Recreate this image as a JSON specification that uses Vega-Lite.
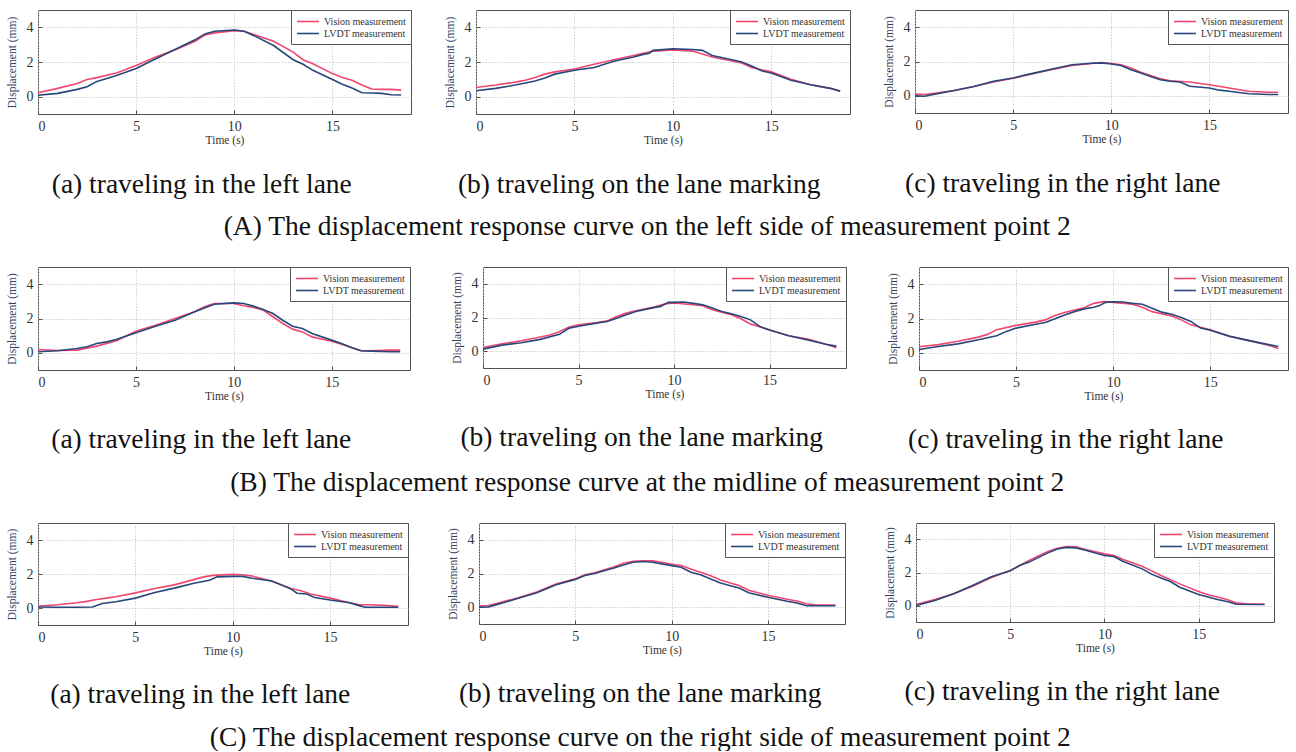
{
  "$schema": "https://vega.github.io/schema/vega-lite/v6.json",
  "background": "white",
  "padding": {"left": 5, "top": 9, "right": 0, "bottom": 0},
  "spacing": 26,
  "data": {
    "values": [
      {"panel":"Aa","series":"Vision","time":0,"disp":0.23},{"panel":"Aa","series":"Vision","time":1,"disp":0.48},{"panel":"Aa","series":"Vision","time":2,"disp":0.76},{"panel":"Aa","series":"Vision","time":2.5,"disp":0.99},{"panel":"Aa","series":"Vision","time":3,"disp":1.1},{"panel":"Aa","series":"Vision","time":4,"disp":1.37},{"panel":"Aa","series":"Vision","time":5,"disp":1.8},{"panel":"Aa","series":"Vision","time":6,"disp":2.29},{"panel":"Aa","series":"Vision","time":7,"disp":2.7},{"panel":"Aa","series":"Vision","time":8,"disp":3.2},{"panel":"Aa","series":"Vision","time":8.5,"disp":3.56},{"panel":"Aa","series":"Vision","time":9,"disp":3.68},{"panel":"Aa","series":"Vision","time":10,"disp":3.81},{"panel":"Aa","series":"Vision","time":10.5,"disp":3.77},{"panel":"Aa","series":"Vision","time":11,"disp":3.58},{"panel":"Aa","series":"Vision","time":12,"disp":3.2},{"panel":"Aa","series":"Vision","time":13,"disp":2.57},{"panel":"Aa","series":"Vision","time":13.5,"disp":2.13},{"panel":"Aa","series":"Vision","time":14,"disp":1.9},{"panel":"Aa","series":"Vision","time":15,"disp":1.33},{"panel":"Aa","series":"Vision","time":15.5,"disp":1.1},{"panel":"Aa","series":"Vision","time":16,"disp":0.95},{"panel":"Aa","series":"Vision","time":16.5,"disp":0.67},{"panel":"Aa","series":"Vision","time":17,"disp":0.44},{"panel":"Aa","series":"Vision","time":17.5,"disp":0.42},{"panel":"Aa","series":"Vision","time":18,"disp":0.42},{"panel":"Aa","series":"Vision","time":18.5,"disp":0.38},
      {"panel":"Aa","series":"LVDT","time":0,"disp":0.08},{"panel":"Aa","series":"LVDT","time":1,"disp":0.19},{"panel":"Aa","series":"LVDT","time":2,"disp":0.42},{"panel":"Aa","series":"LVDT","time":2.5,"disp":0.57},{"panel":"Aa","series":"LVDT","time":3,"disp":0.88},{"panel":"Aa","series":"LVDT","time":4,"disp":1.22},{"panel":"Aa","series":"LVDT","time":5,"disp":1.62},{"panel":"Aa","series":"LVDT","time":6,"disp":2.19},{"panel":"Aa","series":"LVDT","time":7,"disp":2.74},{"panel":"Aa","series":"LVDT","time":8,"disp":3.28},{"panel":"Aa","series":"LVDT","time":8.5,"disp":3.62},{"panel":"Aa","series":"LVDT","time":9,"disp":3.77},{"panel":"Aa","series":"LVDT","time":10,"disp":3.85},{"panel":"Aa","series":"LVDT","time":10.5,"disp":3.77},{"panel":"Aa","series":"LVDT","time":11,"disp":3.52},{"panel":"Aa","series":"LVDT","time":12,"disp":2.95},{"panel":"Aa","series":"LVDT","time":13,"disp":2.13},{"panel":"Aa","series":"LVDT","time":13.5,"disp":1.87},{"panel":"Aa","series":"LVDT","time":14,"disp":1.52},{"panel":"Aa","series":"LVDT","time":15,"disp":0.99},{"panel":"Aa","series":"LVDT","time":15.5,"disp":0.72},{"panel":"Aa","series":"LVDT","time":16,"disp":0.5},{"panel":"Aa","series":"LVDT","time":16.5,"disp":0.23},{"panel":"Aa","series":"LVDT","time":17,"disp":0.21},{"panel":"Aa","series":"LVDT","time":17.5,"disp":0.19},{"panel":"Aa","series":"LVDT","time":18,"disp":0.11},{"panel":"Aa","series":"LVDT","time":18.5,"disp":0.1},

      {"panel":"Ab","series":"Vision","time":0,"disp":0.53},{"panel":"Ab","series":"Vision","time":1,"disp":0.67},{"panel":"Ab","series":"Vision","time":2,"disp":0.84},{"panel":"Ab","series":"Vision","time":2.5,"disp":0.95},{"panel":"Ab","series":"Vision","time":3,"disp":1.1},{"panel":"Ab","series":"Vision","time":3.5,"disp":1.3},{"panel":"Ab","series":"Vision","time":4,"disp":1.43},{"panel":"Ab","series":"Vision","time":5,"disp":1.6},{"panel":"Ab","series":"Vision","time":6,"disp":1.87},{"panel":"Ab","series":"Vision","time":7,"disp":2.13},{"panel":"Ab","series":"Vision","time":8,"disp":2.38},{"panel":"Ab","series":"Vision","time":9,"disp":2.63},{"panel":"Ab","series":"Vision","time":10,"disp":2.7},{"panel":"Ab","series":"Vision","time":11,"disp":2.63},{"panel":"Ab","series":"Vision","time":12,"disp":2.29},{"panel":"Ab","series":"Vision","time":13,"disp":2.06},{"panel":"Ab","series":"Vision","time":13.5,"disp":1.94},{"panel":"Ab","series":"Vision","time":14,"disp":1.68},{"panel":"Ab","series":"Vision","time":15,"disp":1.43},{"panel":"Ab","series":"Vision","time":16,"disp":1.01},{"panel":"Ab","series":"Vision","time":17,"disp":0.69},{"panel":"Ab","series":"Vision","time":18,"disp":0.48},{"panel":"Ab","series":"Vision","time":18.5,"disp":0.32},
      {"panel":"Ab","series":"LVDT","time":0,"disp":0.34},{"panel":"Ab","series":"LVDT","time":1,"disp":0.48},{"panel":"Ab","series":"LVDT","time":2,"disp":0.67},{"panel":"Ab","series":"LVDT","time":3,"disp":0.9},{"panel":"Ab","series":"LVDT","time":3.5,"disp":1.08},{"panel":"Ab","series":"LVDT","time":4,"disp":1.3},{"panel":"Ab","series":"LVDT","time":5,"disp":1.52},{"panel":"Ab","series":"LVDT","time":6,"disp":1.68},{"panel":"Ab","series":"LVDT","time":7,"disp":2.04},{"panel":"Ab","series":"LVDT","time":8,"disp":2.29},{"panel":"Ab","series":"LVDT","time":8.5,"disp":2.44},{"panel":"Ab","series":"LVDT","time":8.8,"disp":2.51},{"panel":"Ab","series":"LVDT","time":9,"disp":2.67},{"panel":"Ab","series":"LVDT","time":10,"disp":2.76},{"panel":"Ab","series":"LVDT","time":11,"disp":2.72},{"panel":"Ab","series":"LVDT","time":11.5,"disp":2.67},{"panel":"Ab","series":"LVDT","time":12,"disp":2.38},{"panel":"Ab","series":"LVDT","time":13,"disp":2.13},{"panel":"Ab","series":"LVDT","time":13.5,"disp":2.0},{"panel":"Ab","series":"LVDT","time":14,"disp":1.77},{"panel":"Ab","series":"LVDT","time":14.5,"disp":1.49},{"panel":"Ab","series":"LVDT","time":15,"disp":1.37},{"panel":"Ab","series":"LVDT","time":16,"disp":0.95},{"panel":"Ab","series":"LVDT","time":17,"disp":0.69},{"panel":"Ab","series":"LVDT","time":18,"disp":0.48},{"panel":"Ab","series":"LVDT","time":18.5,"disp":0.32},

      {"panel":"Ac","series":"Vision","time":0,"disp":0.1},{"panel":"Ac","series":"Vision","time":0.5,"disp":0.08},{"panel":"Ac","series":"Vision","time":1,"disp":0.15},{"panel":"Ac","series":"Vision","time":2,"disp":0.31},{"panel":"Ac","series":"Vision","time":3,"disp":0.54},{"panel":"Ac","series":"Vision","time":4,"disp":0.81},{"panel":"Ac","series":"Vision","time":5,"disp":1.02},{"panel":"Ac","series":"Vision","time":6,"disp":1.29},{"panel":"Ac","series":"Vision","time":7,"disp":1.54},{"panel":"Ac","series":"Vision","time":8,"disp":1.77},{"panel":"Ac","series":"Vision","time":9,"disp":1.88},{"panel":"Ac","series":"Vision","time":9.5,"disp":1.94},{"panel":"Ac","series":"Vision","time":10,"disp":1.88},{"panel":"Ac","series":"Vision","time":10.5,"disp":1.81},{"panel":"Ac","series":"Vision","time":11,"disp":1.62},{"panel":"Ac","series":"Vision","time":11.5,"disp":1.38},{"panel":"Ac","series":"Vision","time":12,"disp":1.19},{"panel":"Ac","series":"Vision","time":12.5,"disp":1.0},{"panel":"Ac","series":"Vision","time":13,"disp":0.88},{"panel":"Ac","series":"Vision","time":14,"disp":0.81},{"panel":"Ac","series":"Vision","time":15,"disp":0.65},{"panel":"Ac","series":"Vision","time":16,"disp":0.46},{"panel":"Ac","series":"Vision","time":17,"disp":0.27},{"panel":"Ac","series":"Vision","time":18,"disp":0.21},{"panel":"Ac","series":"Vision","time":18.5,"disp":0.21},
      {"panel":"Ac","series":"LVDT","time":0,"disp":0.0},{"panel":"Ac","series":"LVDT","time":0.5,"disp":-0.02},{"panel":"Ac","series":"LVDT","time":1,"disp":0.1},{"panel":"Ac","series":"LVDT","time":2,"disp":0.31},{"panel":"Ac","series":"LVDT","time":3,"disp":0.54},{"panel":"Ac","series":"LVDT","time":4,"disp":0.85},{"panel":"Ac","series":"LVDT","time":5,"disp":1.04},{"panel":"Ac","series":"LVDT","time":5.5,"disp":1.19},{"panel":"Ac","series":"LVDT","time":6,"disp":1.31},{"panel":"Ac","series":"LVDT","time":7,"disp":1.56},{"panel":"Ac","series":"LVDT","time":8,"disp":1.81},{"panel":"Ac","series":"LVDT","time":9,"disp":1.9},{"panel":"Ac","series":"LVDT","time":9.5,"disp":1.92},{"panel":"Ac","series":"LVDT","time":10,"disp":1.85},{"panel":"Ac","series":"LVDT","time":10.5,"disp":1.77},{"panel":"Ac","series":"LVDT","time":11,"disp":1.52},{"panel":"Ac","series":"LVDT","time":11.5,"disp":1.33},{"panel":"Ac","series":"LVDT","time":12,"disp":1.13},{"panel":"Ac","series":"LVDT","time":12.5,"disp":0.94},{"panel":"Ac","series":"LVDT","time":13,"disp":0.85},{"panel":"Ac","series":"LVDT","time":13.5,"disp":0.81},{"panel":"Ac","series":"LVDT","time":14,"disp":0.56},{"panel":"Ac","series":"LVDT","time":15,"disp":0.46},{"panel":"Ac","series":"LVDT","time":15.5,"disp":0.33},{"panel":"Ac","series":"LVDT","time":16,"disp":0.27},{"panel":"Ac","series":"LVDT","time":16.5,"disp":0.19},{"panel":"Ac","series":"LVDT","time":17,"disp":0.12},{"panel":"Ac","series":"LVDT","time":18,"disp":0.08},{"panel":"Ac","series":"LVDT","time":18.5,"disp":0.08},

      {"panel":"Ba","series":"Vision","time":0,"disp":0.19},{"panel":"Ba","series":"Vision","time":1,"disp":0.14},{"panel":"Ba","series":"Vision","time":2,"disp":0.16},{"panel":"Ba","series":"Vision","time":3,"disp":0.39},{"panel":"Ba","series":"Vision","time":4,"disp":0.7},{"panel":"Ba","series":"Vision","time":5,"disp":1.26},{"panel":"Ba","series":"Vision","time":6,"disp":1.61},{"panel":"Ba","series":"Vision","time":7,"disp":2.0},{"panel":"Ba","series":"Vision","time":8,"disp":2.39},{"panel":"Ba","series":"Vision","time":8.5,"disp":2.68},{"panel":"Ba","series":"Vision","time":9,"disp":2.87},{"panel":"Ba","series":"Vision","time":10,"disp":2.87},{"panel":"Ba","series":"Vision","time":10.5,"disp":2.74},{"panel":"Ba","series":"Vision","time":11,"disp":2.64},{"panel":"Ba","series":"Vision","time":11.5,"disp":2.49},{"panel":"Ba","series":"Vision","time":12,"disp":2.1},{"panel":"Ba","series":"Vision","time":12.5,"disp":1.71},{"panel":"Ba","series":"Vision","time":13,"disp":1.38},{"panel":"Ba","series":"Vision","time":13.5,"disp":1.22},{"panel":"Ba","series":"Vision","time":14,"disp":0.93},{"panel":"Ba","series":"Vision","time":15,"disp":0.68},{"panel":"Ba","series":"Vision","time":15.5,"disp":0.5},{"panel":"Ba","series":"Vision","time":16,"disp":0.31},{"panel":"Ba","series":"Vision","time":16.5,"disp":0.12},{"panel":"Ba","series":"Vision","time":17,"disp":0.12},{"panel":"Ba","series":"Vision","time":18,"disp":0.16},{"panel":"Ba","series":"Vision","time":18.5,"disp":0.16},
      {"panel":"Ba","series":"LVDT","time":0,"disp":0.06},{"panel":"Ba","series":"LVDT","time":1,"disp":0.12},{"panel":"Ba","series":"LVDT","time":2,"disp":0.25},{"panel":"Ba","series":"LVDT","time":2.5,"disp":0.35},{"panel":"Ba","series":"LVDT","time":3,"disp":0.54},{"panel":"Ba","series":"LVDT","time":3.5,"disp":0.64},{"panel":"Ba","series":"LVDT","time":4,"disp":0.78},{"panel":"Ba","series":"LVDT","time":5,"disp":1.17},{"panel":"Ba","series":"LVDT","time":6,"disp":1.55},{"panel":"Ba","series":"LVDT","time":7,"disp":1.9},{"panel":"Ba","series":"LVDT","time":8,"disp":2.39},{"panel":"Ba","series":"LVDT","time":9,"disp":2.83},{"panel":"Ba","series":"LVDT","time":10,"disp":2.91},{"panel":"Ba","series":"LVDT","time":10.5,"disp":2.87},{"panel":"Ba","series":"LVDT","time":11,"disp":2.72},{"panel":"Ba","series":"LVDT","time":11.5,"disp":2.52},{"panel":"Ba","series":"LVDT","time":12,"disp":2.29},{"panel":"Ba","series":"LVDT","time":12.5,"disp":1.9},{"panel":"Ba","series":"LVDT","time":13,"disp":1.55},{"panel":"Ba","series":"LVDT","time":13.5,"disp":1.42},{"panel":"Ba","series":"LVDT","time":14,"disp":1.13},{"panel":"Ba","series":"LVDT","time":15,"disp":0.74},{"panel":"Ba","series":"LVDT","time":15.5,"disp":0.54},{"panel":"Ba","series":"LVDT","time":16,"disp":0.31},{"panel":"Ba","series":"LVDT","time":16.5,"disp":0.12},{"panel":"Ba","series":"LVDT","time":17,"disp":0.1},{"panel":"Ba","series":"LVDT","time":18,"disp":0.06},{"panel":"Ba","series":"LVDT","time":18.5,"disp":0.06},

      {"panel":"Bb","series":"Vision","time":0,"disp":0.22},{"panel":"Bb","series":"Vision","time":1,"disp":0.44},{"panel":"Bb","series":"Vision","time":2,"disp":0.62},{"panel":"Bb","series":"Vision","time":3,"disp":0.84},{"panel":"Bb","series":"Vision","time":3.5,"disp":0.96},{"panel":"Bb","series":"Vision","time":4,"disp":1.16},{"panel":"Bb","series":"Vision","time":4.5,"disp":1.44},{"panel":"Bb","series":"Vision","time":5,"disp":1.56},{"panel":"Bb","series":"Vision","time":6,"disp":1.7},{"panel":"Bb","series":"Vision","time":6.5,"disp":1.8},{"panel":"Bb","series":"Vision","time":7,"disp":2.06},{"panel":"Bb","series":"Vision","time":7.5,"disp":2.26},{"panel":"Bb","series":"Vision","time":8,"disp":2.4},{"panel":"Bb","series":"Vision","time":9,"disp":2.64},{"panel":"Bb","series":"Vision","time":9.5,"disp":2.8},{"panel":"Bb","series":"Vision","time":10,"disp":2.86},{"panel":"Bb","series":"Vision","time":11,"disp":2.76},{"panel":"Bb","series":"Vision","time":11.5,"disp":2.7},{"panel":"Bb","series":"Vision","time":12,"disp":2.46},{"panel":"Bb","series":"Vision","time":13,"disp":2.16},{"panel":"Bb","series":"Vision","time":13.5,"disp":1.92},{"panel":"Bb","series":"Vision","time":14,"disp":1.62},{"panel":"Bb","series":"Vision","time":15,"disp":1.26},{"panel":"Bb","series":"Vision","time":16,"disp":0.92},{"panel":"Bb","series":"Vision","time":17,"disp":0.72},{"panel":"Bb","series":"Vision","time":18,"disp":0.4},{"panel":"Bb","series":"Vision","time":18.5,"disp":0.2},
      {"panel":"Bb","series":"LVDT","time":0,"disp":0.12},{"panel":"Bb","series":"LVDT","time":1,"disp":0.36},{"panel":"Bb","series":"LVDT","time":2,"disp":0.5},{"panel":"Bb","series":"LVDT","time":3,"disp":0.7},{"panel":"Bb","series":"LVDT","time":4,"disp":1.0},{"panel":"Bb","series":"LVDT","time":4.5,"disp":1.36},{"panel":"Bb","series":"LVDT","time":5,"disp":1.48},{"panel":"Bb","series":"LVDT","time":6,"disp":1.68},{"panel":"Bb","series":"LVDT","time":6.5,"disp":1.76},{"panel":"Bb","series":"LVDT","time":7,"disp":1.96},{"panel":"Bb","series":"LVDT","time":7.5,"disp":2.16},{"panel":"Bb","series":"LVDT","time":8,"disp":2.36},{"panel":"Bb","series":"LVDT","time":9,"disp":2.6},{"panel":"Bb","series":"LVDT","time":9.3,"disp":2.66},{"panel":"Bb","series":"LVDT","time":9.7,"disp":2.9},{"panel":"Bb","series":"LVDT","time":10,"disp":2.9},{"panel":"Bb","series":"LVDT","time":10.5,"disp":2.92},{"panel":"Bb","series":"LVDT","time":11,"disp":2.84},{"panel":"Bb","series":"LVDT","time":11.5,"disp":2.76},{"panel":"Bb","series":"LVDT","time":12,"disp":2.56},{"panel":"Bb","series":"LVDT","time":12.5,"disp":2.36},{"panel":"Bb","series":"LVDT","time":13,"disp":2.22},{"panel":"Bb","series":"LVDT","time":13.5,"disp":2.06},{"panel":"Bb","series":"LVDT","time":14,"disp":1.86},{"panel":"Bb","series":"LVDT","time":14.5,"disp":1.46},{"panel":"Bb","series":"LVDT","time":15,"disp":1.26},{"panel":"Bb","series":"LVDT","time":16,"disp":0.92},{"panel":"Bb","series":"LVDT","time":17,"disp":0.66},{"panel":"Bb","series":"LVDT","time":18,"disp":0.4},{"panel":"Bb","series":"LVDT","time":18.5,"disp":0.3},

      {"panel":"Bc","series":"Vision","time":0,"disp":0.35},{"panel":"Bc","series":"Vision","time":1,"disp":0.48},{"panel":"Bc","series":"Vision","time":2,"disp":0.67},{"panel":"Bc","series":"Vision","time":3,"disp":0.9},{"panel":"Bc","series":"Vision","time":3.5,"disp":1.06},{"panel":"Bc","series":"Vision","time":4,"disp":1.35},{"panel":"Bc","series":"Vision","time":5,"disp":1.6},{"panel":"Bc","series":"Vision","time":6,"disp":1.79},{"panel":"Bc","series":"Vision","time":6.5,"disp":1.92},{"panel":"Bc","series":"Vision","time":7,"disp":2.17},{"panel":"Bc","series":"Vision","time":7.5,"disp":2.35},{"panel":"Bc","series":"Vision","time":8,"disp":2.5},{"panel":"Bc","series":"Vision","time":8.5,"disp":2.63},{"panel":"Bc","series":"Vision","time":9,"disp":2.88},{"panel":"Bc","series":"Vision","time":9.5,"disp":2.98},{"panel":"Bc","series":"Vision","time":10,"disp":2.94},{"panel":"Bc","series":"Vision","time":11,"disp":2.83},{"panel":"Bc","series":"Vision","time":11.5,"disp":2.65},{"panel":"Bc","series":"Vision","time":12,"disp":2.4},{"panel":"Bc","series":"Vision","time":13,"disp":2.15},{"panel":"Bc","series":"Vision","time":13.5,"disp":1.92},{"panel":"Bc","series":"Vision","time":14,"disp":1.63},{"panel":"Bc","series":"Vision","time":15,"disp":1.35},{"panel":"Bc","series":"Vision","time":16,"disp":0.96},{"panel":"Bc","series":"Vision","time":17,"disp":0.71},{"panel":"Bc","series":"Vision","time":18,"disp":0.44},{"panel":"Bc","series":"Vision","time":18.5,"disp":0.25},
      {"panel":"Bc","series":"LVDT","time":0,"disp":0.19},{"panel":"Bc","series":"LVDT","time":1,"disp":0.37},{"panel":"Bc","series":"LVDT","time":2,"disp":0.52},{"panel":"Bc","series":"LVDT","time":3,"disp":0.75},{"panel":"Bc","series":"LVDT","time":4,"disp":1.0},{"panel":"Bc","series":"LVDT","time":4.5,"disp":1.25},{"panel":"Bc","series":"LVDT","time":5,"disp":1.44},{"panel":"Bc","series":"LVDT","time":6,"disp":1.67},{"panel":"Bc","series":"LVDT","time":6.5,"disp":1.77},{"panel":"Bc","series":"LVDT","time":7,"disp":1.98},{"panel":"Bc","series":"LVDT","time":7.5,"disp":2.21},{"panel":"Bc","series":"LVDT","time":8,"disp":2.4},{"panel":"Bc","series":"LVDT","time":8.5,"disp":2.56},{"panel":"Bc","series":"LVDT","time":9,"disp":2.65},{"panel":"Bc","series":"LVDT","time":9.3,"disp":2.75},{"panel":"Bc","series":"LVDT","time":9.6,"disp":2.94},{"panel":"Bc","series":"LVDT","time":10,"disp":2.98},{"panel":"Bc","series":"LVDT","time":10.5,"disp":2.96},{"panel":"Bc","series":"LVDT","time":11,"disp":2.88},{"panel":"Bc","series":"LVDT","time":11.5,"disp":2.83},{"panel":"Bc","series":"LVDT","time":12,"disp":2.6},{"panel":"Bc","series":"LVDT","time":12.5,"disp":2.37},{"panel":"Bc","series":"LVDT","time":13,"disp":2.25},{"panel":"Bc","series":"LVDT","time":13.5,"disp":2.06},{"panel":"Bc","series":"LVDT","time":14,"disp":1.83},{"panel":"Bc","series":"LVDT","time":14.5,"disp":1.44},{"panel":"Bc","series":"LVDT","time":15,"disp":1.31},{"panel":"Bc","series":"LVDT","time":16,"disp":0.96},{"panel":"Bc","series":"LVDT","time":17,"disp":0.71},{"panel":"Bc","series":"LVDT","time":18,"disp":0.48},{"panel":"Bc","series":"LVDT","time":18.5,"disp":0.37},

      {"panel":"Ca","series":"Vision","time":0,"disp":0.1},{"panel":"Ca","series":"Vision","time":1,"disp":0.19},{"panel":"Ca","series":"Vision","time":2,"disp":0.31},{"panel":"Ca","series":"Vision","time":2.5,"disp":0.39},{"panel":"Ca","series":"Vision","time":3,"disp":0.5},{"panel":"Ca","series":"Vision","time":3.5,"disp":0.58},{"panel":"Ca","series":"Vision","time":4,"disp":0.66},{"panel":"Ca","series":"Vision","time":5,"disp":0.89},{"panel":"Ca","series":"Vision","time":6,"disp":1.15},{"panel":"Ca","series":"Vision","time":7,"disp":1.36},{"panel":"Ca","series":"Vision","time":8,"disp":1.67},{"panel":"Ca","series":"Vision","time":8.5,"disp":1.83},{"panel":"Ca","series":"Vision","time":9,"disp":1.92},{"panel":"Ca","series":"Vision","time":10,"disp":1.98},{"panel":"Ca","series":"Vision","time":10.5,"disp":1.96},{"panel":"Ca","series":"Vision","time":11,"disp":1.88},{"panel":"Ca","series":"Vision","time":12,"disp":1.59},{"panel":"Ca","series":"Vision","time":13,"disp":1.15},{"panel":"Ca","series":"Vision","time":13.5,"disp":1.01},{"panel":"Ca","series":"Vision","time":14,"disp":0.82},{"panel":"Ca","series":"Vision","time":15,"disp":0.58},{"panel":"Ca","series":"Vision","time":16,"disp":0.31},{"panel":"Ca","series":"Vision","time":16.5,"disp":0.19},{"panel":"Ca","series":"Vision","time":17,"disp":0.19},{"panel":"Ca","series":"Vision","time":18,"disp":0.14},{"panel":"Ca","series":"Vision","time":18.5,"disp":0.1},
      {"panel":"Ca","series":"LVDT","time":0,"disp":0.06},{"panel":"Ca","series":"LVDT","time":1,"disp":0.04},{"panel":"Ca","series":"LVDT","time":2,"disp":0.04},{"panel":"Ca","series":"LVDT","time":2.8,"disp":0.06},{"panel":"Ca","series":"LVDT","time":3.3,"disp":0.27},{"panel":"Ca","series":"LVDT","time":4,"disp":0.37},{"panel":"Ca","series":"LVDT","time":5,"disp":0.58},{"panel":"Ca","series":"LVDT","time":6,"disp":0.91},{"panel":"Ca","series":"LVDT","time":7,"disp":1.17},{"panel":"Ca","series":"LVDT","time":8,"disp":1.46},{"panel":"Ca","series":"LVDT","time":8.8,"disp":1.63},{"panel":"Ca","series":"LVDT","time":9.2,"disp":1.83},{"panel":"Ca","series":"LVDT","time":10,"disp":1.86},{"panel":"Ca","series":"LVDT","time":10.5,"disp":1.86},{"panel":"Ca","series":"LVDT","time":11,"disp":1.75},{"panel":"Ca","series":"LVDT","time":12,"disp":1.59},{"panel":"Ca","series":"LVDT","time":13,"disp":1.11},{"panel":"Ca","series":"LVDT","time":13.3,"disp":0.87},{"panel":"Ca","series":"LVDT","time":13.8,"disp":0.82},{"panel":"Ca","series":"LVDT","time":14.2,"disp":0.62},{"panel":"Ca","series":"LVDT","time":15,"disp":0.47},{"panel":"Ca","series":"LVDT","time":16,"disp":0.31},{"panel":"Ca","series":"LVDT","time":16.5,"disp":0.14},{"panel":"Ca","series":"LVDT","time":16.8,"disp":0.04},{"panel":"Ca","series":"LVDT","time":17.5,"disp":0.04},{"panel":"Ca","series":"LVDT","time":18.5,"disp":0.04},

      {"panel":"Cb","series":"Vision","time":0,"disp":0.08},{"panel":"Cb","series":"Vision","time":0.5,"disp":0.1},{"panel":"Cb","series":"Vision","time":1,"disp":0.24},{"panel":"Cb","series":"Vision","time":2,"disp":0.55},{"panel":"Cb","series":"Vision","time":3,"disp":0.9},{"panel":"Cb","series":"Vision","time":4,"disp":1.37},{"panel":"Cb","series":"Vision","time":5,"disp":1.69},{"panel":"Cb","series":"Vision","time":5.5,"disp":1.92},{"panel":"Cb","series":"Vision","time":6,"disp":2.04},{"panel":"Cb","series":"Vision","time":7,"disp":2.39},{"panel":"Cb","series":"Vision","time":7.5,"disp":2.61},{"panel":"Cb","series":"Vision","time":8,"disp":2.73},{"panel":"Cb","series":"Vision","time":8.5,"disp":2.76},{"panel":"Cb","series":"Vision","time":9,"disp":2.75},{"panel":"Cb","series":"Vision","time":9.5,"disp":2.67},{"panel":"Cb","series":"Vision","time":10,"disp":2.55},{"panel":"Cb","series":"Vision","time":10.5,"disp":2.47},{"panel":"Cb","series":"Vision","time":11,"disp":2.27},{"panel":"Cb","series":"Vision","time":11.5,"disp":2.08},{"panel":"Cb","series":"Vision","time":12,"disp":1.88},{"panel":"Cb","series":"Vision","time":12.5,"disp":1.63},{"panel":"Cb","series":"Vision","time":13,"disp":1.45},{"panel":"Cb","series":"Vision","time":13.5,"disp":1.29},{"panel":"Cb","series":"Vision","time":14,"disp":1.0},{"panel":"Cb","series":"Vision","time":15,"disp":0.71},{"panel":"Cb","series":"Vision","time":16,"disp":0.47},{"panel":"Cb","series":"Vision","time":16.5,"disp":0.37},{"panel":"Cb","series":"Vision","time":17,"disp":0.2},{"panel":"Cb","series":"Vision","time":17.5,"disp":0.12},{"panel":"Cb","series":"Vision","time":18.5,"disp":0.12},
      {"panel":"Cb","series":"LVDT","time":0,"disp":0.0},{"panel":"Cb","series":"LVDT","time":0.5,"disp":0.02},{"panel":"Cb","series":"LVDT","time":1,"disp":0.18},{"panel":"Cb","series":"LVDT","time":2,"disp":0.51},{"panel":"Cb","series":"LVDT","time":3,"disp":0.86},{"panel":"Cb","series":"LVDT","time":4,"disp":1.33},{"panel":"Cb","series":"LVDT","time":5,"disp":1.65},{"panel":"Cb","series":"LVDT","time":5.5,"disp":1.88},{"panel":"Cb","series":"LVDT","time":6,"disp":2.0},{"panel":"Cb","series":"LVDT","time":7,"disp":2.33},{"panel":"Cb","series":"LVDT","time":7.5,"disp":2.51},{"panel":"Cb","series":"LVDT","time":8,"disp":2.67},{"panel":"Cb","series":"LVDT","time":8.5,"disp":2.71},{"panel":"Cb","series":"LVDT","time":9,"disp":2.67},{"panel":"Cb","series":"LVDT","time":9.5,"disp":2.57},{"panel":"Cb","series":"LVDT","time":10,"disp":2.47},{"panel":"Cb","series":"LVDT","time":10.5,"disp":2.37},{"panel":"Cb","series":"LVDT","time":11,"disp":2.08},{"panel":"Cb","series":"LVDT","time":11.5,"disp":1.92},{"panel":"Cb","series":"LVDT","time":12,"disp":1.69},{"panel":"Cb","series":"LVDT","time":12.5,"disp":1.45},{"panel":"Cb","series":"LVDT","time":13,"disp":1.29},{"panel":"Cb","series":"LVDT","time":13.5,"disp":1.14},{"panel":"Cb","series":"LVDT","time":14,"disp":0.86},{"panel":"Cb","series":"LVDT","time":15,"disp":0.59},{"panel":"Cb","series":"LVDT","time":16,"disp":0.35},{"panel":"Cb","series":"LVDT","time":16.5,"disp":0.25},{"panel":"Cb","series":"LVDT","time":17,"disp":0.08},{"panel":"Cb","series":"LVDT","time":18.5,"disp":0.08},

      {"panel":"Cc","series":"Vision","time":0,"disp":0.06},{"panel":"Cc","series":"Vision","time":1,"disp":0.36},{"panel":"Cc","series":"Vision","time":2,"disp":0.71},{"panel":"Cc","series":"Vision","time":3,"disp":1.17},{"panel":"Cc","series":"Vision","time":4,"disp":1.7},{"panel":"Cc","series":"Vision","time":5,"disp":2.12},{"panel":"Cc","series":"Vision","time":6,"disp":2.73},{"panel":"Cc","series":"Vision","time":7,"disp":3.27},{"panel":"Cc","series":"Vision","time":7.5,"disp":3.47},{"panel":"Cc","series":"Vision","time":8,"disp":3.58},{"panel":"Cc","series":"Vision","time":8.5,"disp":3.56},{"panel":"Cc","series":"Vision","time":9,"disp":3.39},{"panel":"Cc","series":"Vision","time":10,"disp":3.13},{"panel":"Cc","series":"Vision","time":10.5,"disp":3.03},{"panel":"Cc","series":"Vision","time":11,"disp":2.79},{"panel":"Cc","series":"Vision","time":12,"disp":2.38},{"panel":"Cc","series":"Vision","time":12.5,"disp":2.1},{"panel":"Cc","series":"Vision","time":13,"disp":1.82},{"panel":"Cc","series":"Vision","time":14,"disp":1.31},{"panel":"Cc","series":"Vision","time":15,"disp":0.85},{"panel":"Cc","series":"Vision","time":15.5,"disp":0.65},{"panel":"Cc","series":"Vision","time":16,"disp":0.51},{"panel":"Cc","series":"Vision","time":16.5,"disp":0.36},{"panel":"Cc","series":"Vision","time":17,"disp":0.16},{"panel":"Cc","series":"Vision","time":17.5,"disp":0.1},{"panel":"Cc","series":"Vision","time":18.5,"disp":0.08},
      {"panel":"Cc","series":"LVDT","time":0,"disp":0.0},{"panel":"Cc","series":"LVDT","time":1,"disp":0.3},{"panel":"Cc","series":"LVDT","time":2,"disp":0.71},{"panel":"Cc","series":"LVDT","time":3,"disp":1.21},{"panel":"Cc","series":"LVDT","time":4,"disp":1.74},{"panel":"Cc","series":"LVDT","time":5,"disp":2.1},{"panel":"Cc","series":"LVDT","time":5.5,"disp":2.42},{"panel":"Cc","series":"LVDT","time":6,"disp":2.63},{"panel":"Cc","series":"LVDT","time":7,"disp":3.19},{"panel":"Cc","series":"LVDT","time":7.5,"disp":3.43},{"panel":"Cc","series":"LVDT","time":8,"disp":3.52},{"panel":"Cc","series":"LVDT","time":8.5,"disp":3.49},{"panel":"Cc","series":"LVDT","time":9,"disp":3.35},{"panel":"Cc","series":"LVDT","time":10,"disp":3.03},{"panel":"Cc","series":"LVDT","time":10.5,"disp":2.97},{"panel":"Cc","series":"LVDT","time":11,"disp":2.67},{"panel":"Cc","series":"LVDT","time":12,"disp":2.22},{"panel":"Cc","series":"LVDT","time":12.5,"disp":1.9},{"panel":"Cc","series":"LVDT","time":13,"disp":1.66},{"panel":"Cc","series":"LVDT","time":13.5,"disp":1.45},{"panel":"Cc","series":"LVDT","time":14,"disp":1.11},{"panel":"Cc","series":"LVDT","time":15,"disp":0.67},{"panel":"Cc","series":"LVDT","time":15.5,"disp":0.51},{"panel":"Cc","series":"LVDT","time":16,"disp":0.36},{"panel":"Cc","series":"LVDT","time":16.5,"disp":0.24},{"panel":"Cc","series":"LVDT","time":17,"disp":0.08},{"panel":"Cc","series":"LVDT","time":18.5,"disp":0.06}
    ]
  },
  "resolve": {"legend": {"color": "independent"}},
  "vconcat": [
    {
      "title": {"text": "(A) The displacement response curve on the left side of measurement point 2", "offset": 14},
      "spacing": 31,
      "resolve": {"legend": {"color": "independent"}},
      "hconcat": [
        {"width": 373, "height": 104, "title": {"text": "(a) traveling in the left lane", "offset": 25, "frame": "bounds", "dx": -7},
         "transform": [{"filter": "datum.panel == 'Aa'"}], "mark": {"type": "line", "strokeWidth": 1.6},
         "encoding": {"x": {"field": "time", "type": "quantitative", "title": "Time (s)", "scale": {"domain": [0, 19], "nice": false}, "axis": {"values": [0, 5, 10, 15]}},
                      "y": {"field": "disp", "type": "quantitative", "title": "Displacement (mm)", "scale": {"domain": [-1, 5], "nice": false}, "axis": {"values": [0, 2, 4]}},
                      "color": {"field": "series", "type": "nominal", "scale": {"domain": ["Vision", "LVDT"], "range": ["#f0476f", "#27477a"]}, "legend": {"title": null, "labelExpr": "datum.label + ' measurement'"}}}},
        {"width": 374, "height": 104, "title": {"text": "(b) traveling on the lane marking", "offset": 25, "frame": "bounds", "dx": -8},
         "transform": [{"filter": "datum.panel == 'Ab'"}], "mark": {"type": "line", "strokeWidth": 1.6},
         "encoding": {"x": {"field": "time", "type": "quantitative", "title": "Time (s)", "scale": {"domain": [0, 19], "nice": false}, "axis": {"values": [0, 5, 10, 15]}},
                      "y": {"field": "disp", "type": "quantitative", "title": "Displacement (mm)", "scale": {"domain": [-1, 5], "nice": false}, "axis": {"values": [0, 2, 4]}},
                      "color": {"field": "series", "type": "nominal", "scale": {"domain": ["Vision", "LVDT"], "range": ["#f0476f", "#27477a"]}, "legend": {"title": null, "labelExpr": "datum.label + ' measurement'"}}}},
        {"width": 373, "height": 103, "title": {"text": "(c) traveling in the right lane", "offset": 25, "frame": "bounds", "dx": -23},
         "transform": [{"filter": "datum.panel == 'Ac'"}], "mark": {"type": "line", "strokeWidth": 1.6},
         "encoding": {"x": {"field": "time", "type": "quantitative", "title": "Time (s)", "scale": {"domain": [0, 19], "nice": false}, "axis": {"values": [0, 5, 10, 15]}},
                      "y": {"field": "disp", "type": "quantitative", "title": "Displacement (mm)", "scale": {"domain": [-1, 5], "nice": false}, "axis": {"values": [0, 2, 4]}},
                      "color": {"field": "series", "type": "nominal", "scale": {"domain": ["Vision", "LVDT"], "range": ["#f0476f", "#27477a"]}, "legend": {"title": null, "labelExpr": "datum.label + ' measurement'"}}}}
      ]
    },
    {
      "title": {"text": "(B) The displacement response curve at the midline of measurement point 2", "offset": 15},
      "spacing": 39,
      "resolve": {"legend": {"color": "independent"}},
      "hconcat": [
        {"width": 372, "height": 103, "title": {"text": "(a) traveling in the left lane", "offset": 24, "frame": "bounds", "dx": -7},
         "transform": [{"filter": "datum.panel == 'Ba'"}], "mark": {"type": "line", "strokeWidth": 1.6},
         "encoding": {"x": {"field": "time", "type": "quantitative", "title": "Time (s)", "scale": {"domain": [0, 19], "nice": false}, "axis": {"values": [0, 5, 10, 15]}},
                      "y": {"field": "disp", "type": "quantitative", "title": "Displacement (mm)", "scale": {"domain": [-1, 5], "nice": false}, "axis": {"values": [0, 2, 4]}},
                      "color": {"field": "series", "type": "nominal", "scale": {"domain": ["Vision", "LVDT"], "range": ["#f0476f", "#27477a"]}, "legend": {"title": null, "labelExpr": "datum.label + ' measurement'"}}}},
        {"width": 363, "height": 101, "title": {"text": "(b) traveling on the lane marking", "offset": 24, "frame": "bounds", "dx": -7},
         "transform": [{"filter": "datum.panel == 'Bb'"}], "mark": {"type": "line", "strokeWidth": 1.6},
         "encoding": {"x": {"field": "time", "type": "quantitative", "title": "Time (s)", "scale": {"domain": [0, 19], "nice": false}, "axis": {"values": [0, 5, 10, 15]}},
                      "y": {"field": "disp", "type": "quantitative", "title": "Displacement (mm)", "scale": {"domain": [-1, 5], "nice": false}, "axis": {"values": [0, 2, 4]}},
                      "color": {"field": "series", "type": "nominal", "scale": {"domain": ["Vision", "LVDT"], "range": ["#f0476f", "#27477a"]}, "legend": {"title": null, "labelExpr": "datum.label + ' measurement'"}}}},
        {"width": 369, "height": 103, "title": {"text": "(c) traveling in the right lane", "offset": 24, "frame": "bounds", "dx": -22},
         "transform": [{"filter": "datum.panel == 'Bc'"}], "mark": {"type": "line", "strokeWidth": 1.6},
         "encoding": {"x": {"field": "time", "type": "quantitative", "title": "Time (s)", "scale": {"domain": [0, 19], "nice": false}, "axis": {"values": [0, 5, 10, 15]}},
                      "y": {"field": "disp", "type": "quantitative", "title": "Displacement (mm)", "scale": {"domain": [-1, 5], "nice": false}, "axis": {"values": [0, 2, 4]}},
                      "color": {"field": "series", "type": "nominal", "scale": {"domain": ["Vision", "LVDT"], "range": ["#f0476f", "#27477a"]}, "legend": {"title": null, "labelExpr": "datum.label + ' measurement'"}}}}
      ]
    },
    {
      "title": {"text": "(C) The displacement response curve on the right side of measurement point 2", "offset": 15},
      "spacing": 37,
      "resolve": {"legend": {"color": "independent"}},
      "hconcat": [
        {"width": 370, "height": 102, "title": {"text": "(a) traveling in the left lane", "offset": 24, "frame": "bounds", "dx": -7},
         "transform": [{"filter": "datum.panel == 'Ca'"}], "mark": {"type": "line", "strokeWidth": 1.6},
         "encoding": {"x": {"field": "time", "type": "quantitative", "title": "Time (s)", "scale": {"domain": [0, 19], "nice": false}, "axis": {"values": [0, 5, 10, 15]}},
                      "y": {"field": "disp", "type": "quantitative", "title": "Displacement (mm)", "scale": {"domain": [-1, 5], "nice": false}, "axis": {"values": [0, 2, 4]}},
                      "color": {"field": "series", "type": "nominal", "scale": {"domain": ["Vision", "LVDT"], "range": ["#f0476f", "#27477a"]}, "legend": {"title": null, "labelExpr": "datum.label + ' measurement'"}}}},
        {"width": 366, "height": 101, "title": {"text": "(b) traveling on the lane marking", "offset": 24, "frame": "bounds", "dx": -6},
         "transform": [{"filter": "datum.panel == 'Cb'"}], "mark": {"type": "line", "strokeWidth": 1.6},
         "encoding": {"x": {"field": "time", "type": "quantitative", "title": "Time (s)", "scale": {"domain": [0, 19], "nice": false}, "axis": {"values": [0, 5, 10, 15]}},
                      "y": {"field": "disp", "type": "quantitative", "title": "Displacement (mm)", "scale": {"domain": [-1, 5], "nice": false}, "axis": {"values": [0, 2, 4]}},
                      "color": {"field": "series", "type": "nominal", "scale": {"domain": ["Vision", "LVDT"], "range": ["#f0476f", "#27477a"]}, "legend": {"title": null, "labelExpr": "datum.label + ' measurement'"}}}},
        {"width": 358, "height": 99, "title": {"text": "(c) traveling in the right lane", "offset": 24, "frame": "bounds", "dx": -17},
         "transform": [{"filter": "datum.panel == 'Cc'"}], "mark": {"type": "line", "strokeWidth": 1.6},
         "encoding": {"x": {"field": "time", "type": "quantitative", "title": "Time (s)", "scale": {"domain": [0, 19], "nice": false}, "axis": {"values": [0, 5, 10, 15]}},
                      "y": {"field": "disp", "type": "quantitative", "title": "Displacement (mm)", "scale": {"domain": [-1, 5], "nice": false}, "axis": {"values": [0, 2, 4]}},
                      "color": {"field": "series", "type": "nominal", "scale": {"domain": ["Vision", "LVDT"], "range": ["#f0476f", "#27477a"]}, "legend": {"title": null, "labelExpr": "datum.label + ' measurement'"}}}}
      ]
    }
  ],
  "config": {
    "font": "Liberation Serif",
    "view": {"stroke": "#505050", "strokeWidth": 1},
    "axis": {"domain": false, "ticks": true, "tickSize": -4, "tickColor": "#505050", "tickWidth": 1,
             "grid": true, "gridColor": "#c4c4c4", "gridDash": [1.5, 1.5], "gridWidth": 0.8,
             "labelFont": "Liberation Serif", "labelFontSize": 14, "labelColor": "#333333",
             "titleFont": "Liberation Serif", "titleFontSize": 11.5, "titleFontWeight": "normal"},
    "axisX": {"labelPadding": 9, "titlePadding": 1, "titleColor": "#333333"},
    "axisY": {"labelPadding": 9, "titlePadding": 9, "titleColor": "#34425e"},
    "legend": {"orient": "top-right", "offset": 0, "strokeColor": "#555555", "fillColor": "#ffffff", "padding": 5,
               "symbolType": "M-1,0H3", "symbolSize": 121, "symbolStrokeWidth": 1.6, "labelFont": "Liberation Serif",
               "labelFontSize": 10, "labelColor": "#333333", "rowPadding": 0, "labelOffset": 15},
    "title": {"font": "Liberation Serif", "fontSize": 27.5, "fontWeight": "normal", "color": "#111111", "anchor": "middle", "orient": "bottom"}
  }
}
